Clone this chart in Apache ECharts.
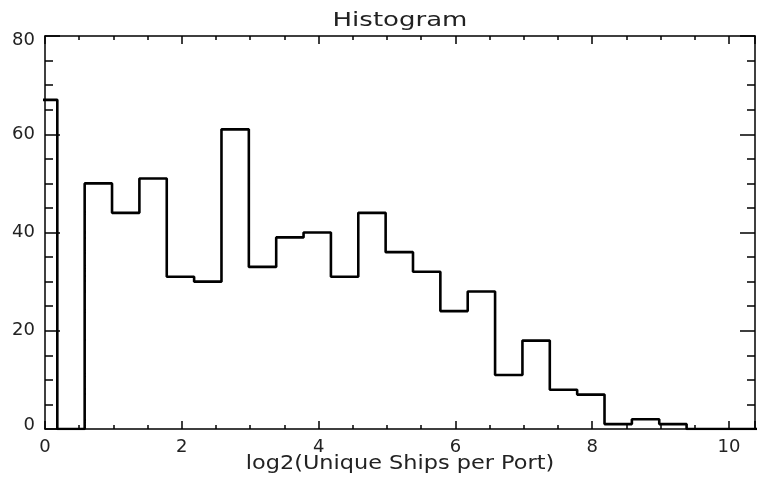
<!DOCTYPE html>
<html>
<head>
<meta charset="utf-8">
<script src="https://cdn.jsdelivr.net/npm/echarts@6/dist/echarts.min.js"></script>
<style>
html,body{margin:0;padding:0;background:#fff;}
#chart{width:758px;height:480px;}
</style>
</head>
<body>
<div id="chart"></div>
<script>
// Left edge of each histogram bin (log2 of unique ships per port)
const binStarts = [-0.22, 0.18, 0.58, 0.98, 1.38, 1.78, 2.18, 2.58, 2.98, 3.38, 3.78, 4.18, 4.58, 4.98, 5.38, 5.78, 6.18, 6.58, 6.98, 7.38, 7.78, 8.18, 8.58, 8.98, 9.38, 9.78, 10.18, 10.58];
// Count in each bin
const binCounts = [67, 0, 50, 44, 51, 31, 30, 61, 33, 39, 40, 31, 44, 36, 32, 24, 28, 11, 18, 8, 7, 1, 2, 1, 0, 0, 0, 0];
const xTickLabels = ['0', '2', '4', '6', '8', '10'];
const yTickLabels = ['0', '20', '40', '60', '80'];
const titleText = 'Histogram';
const xTitle = 'log2(Unique Ships per Port)';

const chart = echarts.init(document.getElementById('chart'), null, {renderer: 'canvas'});
const ink = '#000';
const labelFont = {fontFamily: 'DejaVu Sans', fontSize: 18, color: '#222'};

function xAxisCfg(pos, showLabel) {
  return {
    type: 'value', position: pos, min: 0, max: 10.38, interval: 2,
    axisLine: {show: true, onZero: false, lineStyle: {color: ink, width: 1.5}},
    axisTick: {show: true, inside: true, length: 8, lineStyle: {color: ink, width: 1.5}},
    minorTick: {show: true, splitNumber: 4, length: 4, lineStyle: {color: ink, width: 1.5}},
    splitLine: {show: false}, minorSplitLine: {show: false},
    axisLabel: Object.assign({
      show: showLabel, margin: 9,
      formatter: function (v) {
        const s = String(v);
        return xTickLabels.indexOf(s) >= 0 ? s : '';
      }
    }, labelFont)
  };
}
function yAxisCfg(pos, showLabel) {
  const first = yTickLabels[0], last = yTickLabels[yTickLabels.length - 1];
  return {
    type: 'value', position: pos, min: 0, max: 80, interval: 20,
    axisLine: {show: true, onZero: false, lineStyle: {color: ink, width: 1.5}},
    axisTick: {show: true, inside: true, length: 15, lineStyle: {color: ink, width: 1.5}},
    minorTick: {show: true, splitNumber: 4, length: 8, lineStyle: {color: ink, width: 1.5}},
    splitLine: {show: false}, minorSplitLine: {show: false},
    axisLabel: Object.assign({
      show: showLabel, margin: 10,
      formatter: function (v) {
        const s = String(v);
        if (yTickLabels.indexOf(s) < 0) return '';
        if (s === first) return '{lo|' + s + '}';
        if (s === last) return '{hi|' + s + '}';
        return s;
      },
      rich: {
        lo: {fontFamily: 'DejaVu Sans', fontSize: 18, color: '#222', padding: [0, 0, 8, 0]},
        hi: {fontFamily: 'DejaVu Sans', fontSize: 18, color: '#222', padding: [8, 0, 0, 0]}
      }
    }, labelFont)
  };
}

const option = {
  backgroundColor: '#fff',
  animation: false,
  grid: {left: 45, right: 2, top: 36, bottom: 51, containLabel: false},
  xAxis: [xAxisCfg('bottom', true), xAxisCfg('top', false)],
  yAxis: [yAxisCfg('left', true), yAxisCfg('right', false)],
  graphic: [
    {type: 'text', x: 400, y: 20.5, scaleX: 1.3, silent: true,
     style: {text: titleText, fontFamily: 'DejaVu Sans', fontSize: 20, fill: '#222',
             textAlign: 'center', textVerticalAlign: 'middle'}},
    {type: 'text', x: 400, y: 464, scaleX: 1.12, silent: true,
     style: {text: xTitle, fontFamily: 'DejaVu Sans', fontSize: 20, fill: '#222',
             textAlign: 'center', textVerticalAlign: 'middle'}}
  ],
  series: [{
    type: 'line', xAxisIndex: 0, yAxisIndex: 0,
    step: 'end', symbol: 'none', clip: true,
    lineStyle: {color: ink, width: 2.6},
    data: binStarts.map(function (x, i) { return [x, binCounts[i]]; })
  }]
};
chart.setOption(option);
</script>
</body>
</html>
